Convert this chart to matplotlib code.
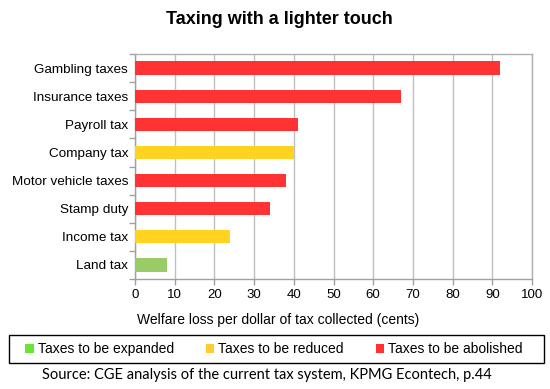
import matplotlib
matplotlib.use("Agg")
import matplotlib.pyplot as plt
from matplotlib.patches import Patch, Rectangle

categories = ["Gambling taxes", "Insurance taxes", "Payroll tax", "Company tax",
              "Motor vehicle taxes", "Stamp duty", "Income tax", "Land tax"]
values = [92, 67, 41, 40, 38, 34, 24, 8]
groups = ["abolished", "abolished", "abolished", "reduced",
          "abolished", "abolished", "reduced", "expanded"]
xticks = [0, 10, 20, 30, 40, 50, 60, 70, 80, 90, 100]

bar_colors = {"expanded": "#99CC66", "reduced": "#FFD320", "abolished": "#FF3333"}
legend_colors = {"expanded": "#66E633", "reduced": "#FFCC33", "abolished": "#FF3333"}
legend_labels = {"expanded": "Taxes to be expanded", "reduced": "Taxes to be reduced",
                 "abolished": "Taxes to be abolished"}

plt.rcParams['font.family'] = ['Liberation Sans', 'DejaVu Sans']

W, H = 550, 389
fig = plt.figure(figsize=(W / 100, H / 100), dpi=100)
ax = fig.add_axes([135 / W, 110 / H, (532 - 135) / W, (279 - 54) / H])

n = len(categories)
pos = [n - 1 - i for i in range(n)]
ax.barh(pos, values, height=0.47, color=[bar_colors[g] for g in groups], zorder=3)

ax.set_xlim(0, 100)
ax.set_ylim(-0.5, n - 0.5)
ax.set_xticks(xticks)
ax.set_xticklabels([str(t) for t in xticks], fontsize=9.5)
ax.set_yticks(pos)
ax.set_yticklabels(categories, fontsize=9.7)
ax.tick_params(axis='y', which='major', length=0, pad=5)
ax.set_yticks([i - 0.5 for i in range(n + 1)], minor=True)
ax.tick_params(axis='y', which='minor', length=4, color='#A0A0A0', width=1)
ax.tick_params(axis='x', which='major', length=4, color='#A0A0A0', width=1, pad=3)

ax.grid(axis='x', color='#C0C0C0', linewidth=1, zorder=0)
for s in ax.spines.values():
    s.set_color('#B0B0B0')
    s.set_linewidth(1)
ax.spines['left'].set_color('#A0A0A0')
ax.spines['bottom'].set_color('#A0A0A0')

fig.text(278 / W, 1 - 320 / H, "Welfare loss per dollar of tax collected (cents)",
         ha='center', va='center', fontsize=10)

fig.text(279 / W, 1 - 19 / H, "Taxing with a lighter touch", ha='center', va='center',
         fontsize=13, fontweight='bold')

handles = [Patch(facecolor=legend_colors[k], edgecolor='none', label=legend_labels[k])
           for k in ["expanded", "reduced", "abolished"]]
leg = fig.legend(handles=handles, loc='center',
                 bbox_to_anchor=(274 / W, 1 - 349 / H),
                 ncol=3, fontsize=10, frameon=False,
                 handlelength=0.6, handleheight=0.6, handletextpad=0.3,
                 columnspacing=2.3, borderaxespad=0, borderpad=0)
fig.patches.append(Rectangle((9 / W, 1 - 363 / H), 535 / W, 28 / H,
                             transform=fig.transFigure, fill=False,
                             edgecolor='black', linewidth=1))

fig.text(267 / W, 1 - 375 / H, "Source: CGE analysis of the current tax system, KPMG Econtech, p.44",
         ha='center', va='center', fontsize=10.5, family=['Lato', 'DejaVu Sans'])

fig.savefig("out.png", dpi=100)
